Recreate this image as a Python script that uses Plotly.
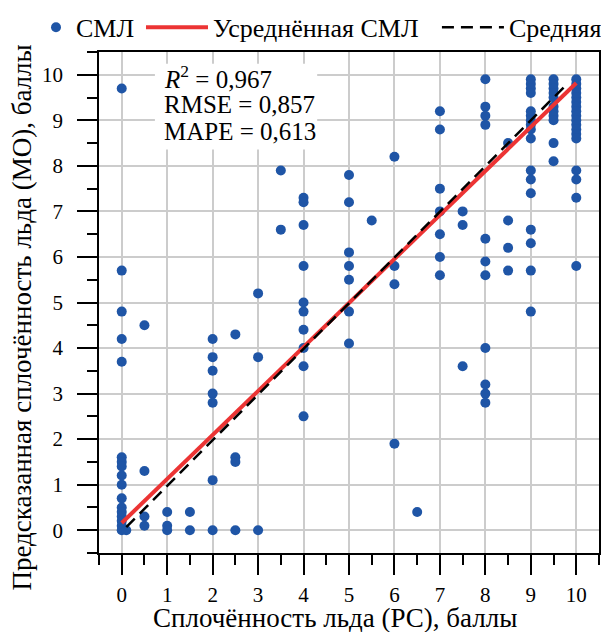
import plotly.graph_objects as go

# ---- data ----
pc_levels = [0, 0.1, 0.5, 1, 1.5, 2, 2.5, 3, 3.5, 4, 5, 5.5, 6, 6.5, 7, 7.5, 8, 8.5, 9, 9.5, 10]
mo_by_level = [
    [9.7, 5.7, 4.8, 4.2, 3.7, 1.6, 1.5, 1.4, 1.2, 1.0, 0.7, 0.5, 0.4, 0.3, 0.2, 0.1, 0.0],
    [0.0],
    [4.5, 1.3, 0.3, 0.1],
    [0.4, 0.1, 0.0],
    [0.4, 0.0],
    [4.2, 3.8, 3.5, 3.0, 2.8, 1.1, 0.0],
    [4.3, 1.6, 1.5, 0.0],
    [5.2, 3.8, 0.0],
    [7.9, 6.6],
    [7.3, 7.2, 6.7, 5.8, 5.0, 4.8, 4.4, 4.0, 3.6, 2.5],
    [7.8, 7.2, 6.1, 5.8, 5.5, 4.8, 4.1],
    [6.8],
    [8.2, 5.8, 5.4, 1.9],
    [0.4],
    [9.2, 8.8, 7.5, 7.0, 6.5, 6.0, 5.6],
    [7.0, 6.7, 3.6],
    [9.9, 9.3, 9.1, 8.9, 6.4, 5.9, 5.6, 4.0, 3.2, 3.0, 2.8],
    [8.5, 6.8, 6.2, 5.7],
    [9.9, 9.8, 9.7, 9.6, 9.2, 9.1, 9.0, 8.9, 8.8, 8.6, 7.9, 7.7, 7.4, 6.6, 6.3, 5.7, 4.8],
    [9.9, 9.8, 9.7, 9.6, 9.5, 9.3, 9.2, 9.1, 9.0, 8.5, 8.1],
    [9.9, 9.8, 9.7, 9.6, 9.5, 9.4, 9.3, 9.2, 9.1, 9.0, 8.9, 8.8, 8.7, 8.6, 7.9, 7.7, 7.3, 5.8],
]
avg_line_x = [0, 10]
avg_line_y = [0.16, 9.82]
mean_line_x = [0.1, 9.8]
mean_line_y = [0.07, 9.8]

metric_r2 = "0,967"
metric_rmse = "0,857"
metric_mape = "0,613"

series_names = ["СМЛ", "Усреднённая СМЛ", "Средняя"]
x_title = "Сплочённость льда (РС), баллы"
y_title = "Предсказанная сплочённость льда (МО), баллы"
tick_values = list(range(0, 11))
tick_labels = [str(v) for v in tick_values]

# ---- build ----
scatter_x = [lvl for lvl, vals in zip(pc_levels, mo_by_level) for _ in vals]
scatter_y = [v for vals in mo_by_level for v in vals]

FONT = "Liberation Serif"
BLUE = "#1f55a6"
RED = "#ec3434"

fig = go.Figure()
fig.add_trace(go.Scatter(
    x=scatter_x, y=scatter_y, mode="markers", name=series_names[0], legend="legend",
    marker=dict(color=BLUE, size=10, line=dict(width=0)),
))
fig.add_trace(go.Scatter(
    x=avg_line_x, y=avg_line_y, mode="lines", name=series_names[1], legend="legend2",
    line=dict(color=RED, width=4),
))
fig.add_trace(go.Scatter(
    x=mean_line_x, y=mean_line_y, mode="lines", name=series_names[2], legend="legend3",
    line=dict(color="black", width=2.5, dash="12px,7px"),
))

axis_common = dict(
    range=[-0.5, 10.5],
    tickmode="array", tickvals=tick_values, ticktext=tick_labels,
    ticks="outside", ticklen=20, tickwidth=1.5, tickcolor="black",
    showline=True, linecolor="black", linewidth=1.5, mirror=True,
    showgrid=True, gridcolor="#cccccc", gridwidth=1.5,
    zeroline=False,
    tickfont=dict(family=FONT, size=21, color="black"),
    minor=dict(dtick=0.5, tick0=-0.5, ticks="outside", ticklen=10, tickwidth=1.5,
               tickcolor="black", showgrid=False),
)
fig.update_xaxes(**axis_common, ticklabelstandoff=2)
fig.update_yaxes(**axis_common, ticklabelstandoff=10)

# axis titles (placed as in the reference, slightly off-centre)
title_font = dict(family=FONT, size=27, color="black")
fig.add_annotation(text=x_title, xref="paper", yref="paper", x=0.472, y=-0.129,
                   xanchor="center", yanchor="middle", showarrow=False, font=title_font)
fig.add_annotation(text=y_title, xref="paper", yref="paper", x=-0.154, y=0.47,
                   xanchor="center", yanchor="middle", showarrow=False, font=title_font,
                   textangle=-90)

fig.add_shape(type="rect", xref="x", yref="y", x0=0.73, x1=4.3, y0=8.36, y1=10.24,
              fillcolor="white", line=dict(width=0), layer="between")

metric_lines = [f"<i>R</i><sup>2</sup> = {metric_r2}", f"RMSE = {metric_rmse}", f"MAPE = {metric_mape}"]
metric_y = [9.96, 9.35, 8.75]
for txt, yy in zip(metric_lines, metric_y):
    fig.add_annotation(x=0.89, y=yy, xref="x", yref="y", text=txt, showarrow=False,
                       xanchor="left", yanchor="middle", align="left",
                       font=dict(family=FONT, size=25, color="black"))

legend_font = dict(family=FONT, size=26, color="black")
legend_common = dict(orientation="h", xref="container", y=1.096, xanchor="left", yanchor="top",
                     font=legend_font, bgcolor="rgba(0,0,0,0)")
fig.update_layout(
    width=601, height=632,
    margin=dict(l=99, r=2, t=52, b=79, autoexpand=False),
    plot_bgcolor="white", paper_bgcolor="white",
    font=dict(family=FONT, color="black"),
    showlegend=True,
    legend=dict(x=0.0599, itemwidth=30, **legend_common),
    legend2=dict(x=0.2346, itemwidth=62, **legend_common),
    legend3=dict(x=0.727, itemwidth=62, **legend_common),
)

fig.write_html("out.html", config={"displayModeBar": False},
               post_script="document.body.style.margin='0px';")
